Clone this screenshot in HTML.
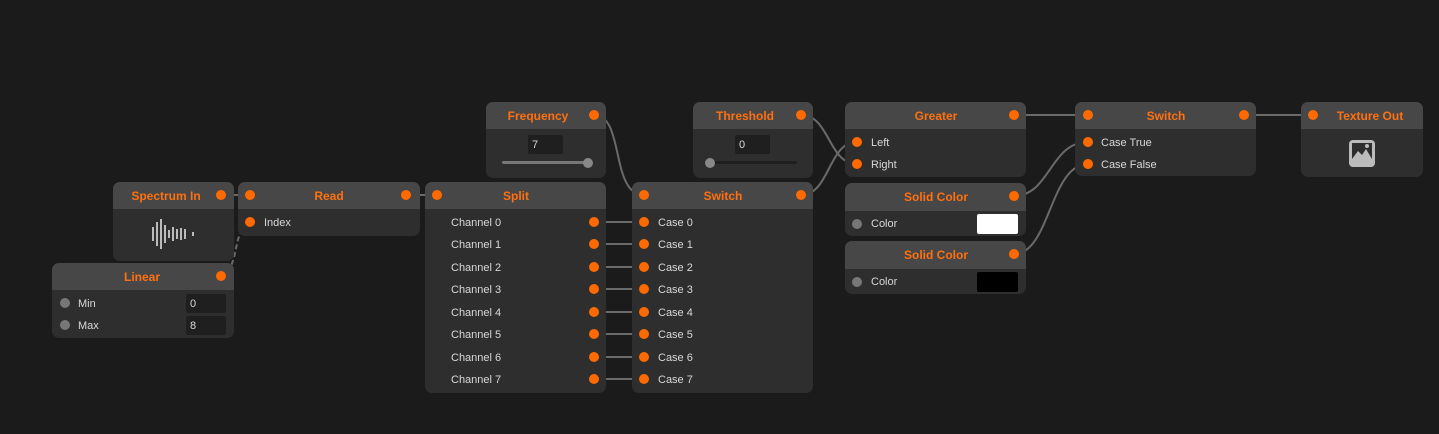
<!DOCTYPE html>
<html><head><meta charset="utf-8"><style>
html,body{margin:0;padding:0;background:#1b1b1b;width:1439px;height:434px;overflow:hidden}
svg{display:block}
.h{font:bold 12px "Liberation Sans",sans-serif;fill:#ff7010;text-anchor:middle}
.t{font:11px "Liberation Sans",sans-serif;fill:#d8d8d8}
.w{stroke:#6a6a6a;stroke-width:2;fill:none}
</style></head><body>
<svg width="1439" height="434" xmlns="http://www.w3.org/2000/svg">
<!-- wires -->
<path class="w" d="M221,195 L250,195"/>
<path class="w" d="M406,195 L437,195"/>
<path class="w" d="M221,276 C240,270 232,228 250,222" stroke-dasharray="5,3"/>
<path class="w" d="M594,115 C625,115 610,195 644,195"/>
<g class="w"><path d="M594,222H644M594,244H644M594,267H644M594,289H644M594,312H644M594,334H644M594,357H644M594,379H644"/></g>
<path class="w" d="M801,115 C830,115 828,164 857,164"/>
<path class="w" d="M801,195 C830,195 828,142 857,142"/>
<path class="w" d="M1014,115 L1088,115"/>
<path class="w" d="M1014,196 C1050,196 1050,142 1088,142"/>
<path class="w" d="M1014,254 C1050,254 1050,164 1088,164"/>
<path class="w" d="M1244,115 L1313,115"/>

<!-- Spectrum In -->
<rect x="113" y="182" width="121" height="79" rx="7" fill="#2e2e2e"/>
<path d="M113,209 V189 a7,7 0 0 1 7,-7 H227 a7,7 0 0 1 7,7 V209 Z" fill="#474747"/>
<text class="h" x="166" y="200">Spectrum In</text>
<circle cx="221" cy="195" r="5" fill="#ff6a00"/>
<g stroke="#bbb" stroke-width="2"><path d="M153,227v14M157,222v24M161,219v30M165,225v18M169,230v8M173,227v14M177,229v10M181,228v12M185,229v10M193,232v4"/></g>
<!-- Read -->
<rect x="238" y="182" width="182" height="54" rx="7" fill="#2e2e2e"/>
<path d="M238,209 V189 a7,7 0 0 1 7,-7 H413 a7,7 0 0 1 7,7 V209 Z" fill="#474747"/>
<text class="h" x="329" y="200">Read</text>
<circle cx="250" cy="195" r="5" fill="#ff6a00"/><circle cx="406" cy="195" r="5" fill="#ff6a00"/>
<circle cx="250" cy="222" r="5" fill="#ff6a00"/><text class="t" x="264" y="226">Index</text>
<!-- Linear -->
<rect x="52" y="263" width="182" height="75" rx="7" fill="#2e2e2e"/>
<path d="M52,290 V270 a7,7 0 0 1 7,-7 H227 a7,7 0 0 1 7,7 V290 Z" fill="#474747"/>
<text class="h" x="142" y="281">Linear</text>
<circle cx="221" cy="276" r="5" fill="#ff6a00"/>
<circle cx="65" cy="303" r="5" fill="#777"/><text class="t" x="78" y="307">Min</text>
<rect x="186" y="294" width="40" height="19" rx="2" fill="#1f1f1f"/><text class="t" x="190" y="307">0</text>
<circle cx="65" cy="325" r="5" fill="#777"/><text class="t" x="78" y="329">Max</text>
<rect x="186" y="316" width="40" height="19" rx="2" fill="#1f1f1f"/><text class="t" x="190" y="329">8</text>
<!-- Frequency -->
<rect x="486" y="102" width="120" height="76" rx="7" fill="#2e2e2e"/>
<path d="M486,129 V109 a7,7 0 0 1 7,-7 H599 a7,7 0 0 1 7,7 V129 Z" fill="#474747"/>
<text class="h" x="538" y="120">Frequency</text>
<circle cx="594" cy="115" r="5" fill="#ff6a00"/>
<rect x="528" y="135" width="35" height="19" rx="2" fill="#1f1f1f"/><text class="t" x="532" y="148">7</text>
<rect x="502" y="161" width="88" height="3" rx="1.5" fill="#777"/><circle cx="588" cy="163" r="5" fill="#888"/>
<!-- Split -->
<rect x="425" y="182" width="181" height="211" rx="7" fill="#2e2e2e"/>
<path d="M425,209 V189 a7,7 0 0 1 7,-7 H599 a7,7 0 0 1 7,7 V209 Z" fill="#474747"/>
<text class="h" x="516" y="200">Split</text>
<circle cx="437" cy="195" r="5" fill="#ff6a00"/>
<g class="t"><text x="451" y="226">Channel 0</text><text x="451" y="248">Channel 1</text><text x="451" y="271">Channel 2</text><text x="451" y="293">Channel 3</text><text x="451" y="316">Channel 4</text><text x="451" y="338">Channel 5</text><text x="451" y="361">Channel 6</text><text x="451" y="383">Channel 7</text></g>
<g fill="#ff6a00"><circle cx="594" cy="222" r="5"/><circle cx="594" cy="244" r="5"/><circle cx="594" cy="267" r="5"/><circle cx="594" cy="289" r="5"/><circle cx="594" cy="312" r="5"/><circle cx="594" cy="334" r="5"/><circle cx="594" cy="357" r="5"/><circle cx="594" cy="379" r="5"/></g>
<!-- Switch -->
<rect x="632" y="182" width="181" height="211" rx="7" fill="#2e2e2e"/>
<path d="M632,209 V189 a7,7 0 0 1 7,-7 H806 a7,7 0 0 1 7,7 V209 Z" fill="#474747"/>
<text class="h" x="723" y="200">Switch</text>
<circle cx="644" cy="195" r="5" fill="#ff6a00"/><circle cx="801" cy="195" r="5" fill="#ff6a00"/>
<g class="t"><text x="658" y="226">Case 0</text><text x="658" y="248">Case 1</text><text x="658" y="271">Case 2</text><text x="658" y="293">Case 3</text><text x="658" y="316">Case 4</text><text x="658" y="338">Case 5</text><text x="658" y="361">Case 6</text><text x="658" y="383">Case 7</text></g>
<g fill="#ff6a00"><circle cx="644" cy="222" r="5"/><circle cx="644" cy="244" r="5"/><circle cx="644" cy="267" r="5"/><circle cx="644" cy="289" r="5"/><circle cx="644" cy="312" r="5"/><circle cx="644" cy="334" r="5"/><circle cx="644" cy="357" r="5"/><circle cx="644" cy="379" r="5"/></g>
<!-- Threshold -->
<rect x="693" y="102" width="120" height="76" rx="7" fill="#2e2e2e"/>
<path d="M693,129 V109 a7,7 0 0 1 7,-7 H806 a7,7 0 0 1 7,7 V129 Z" fill="#474747"/>
<text class="h" x="745" y="120">Threshold</text>
<circle cx="801" cy="115" r="5" fill="#ff6a00"/>
<rect x="735" y="135" width="35" height="19" rx="2" fill="#1f1f1f"/><text class="t" x="739" y="148">0</text>
<rect x="708" y="161" width="89" height="3" rx="1.5" fill="#1f1f1f"/><circle cx="710" cy="163" r="5" fill="#888"/>
<!-- Greater -->
<rect x="845" y="102" width="181" height="75" rx="7" fill="#2e2e2e"/>
<path d="M845,129 V109 a7,7 0 0 1 7,-7 H1019 a7,7 0 0 1 7,7 V129 Z" fill="#474747"/>
<text class="h" x="936" y="120">Greater</text>
<circle cx="1014" cy="115" r="5" fill="#ff6a00"/>
<circle cx="857" cy="142" r="5" fill="#ff6a00"/><text class="t" x="871" y="146">Left</text>
<circle cx="857" cy="164" r="5" fill="#ff6a00"/><text class="t" x="871" y="168">Right</text>
<!-- Solid Color 1 -->
<rect x="845" y="183" width="181" height="53" rx="7" fill="#2e2e2e"/>
<path d="M845,211 V190 a7,7 0 0 1 7,-7 H1019 a7,7 0 0 1 7,7 V211 Z" fill="#474747"/>
<text class="h" x="936" y="201">Solid Color</text>
<circle cx="1014" cy="196" r="5" fill="#ff6a00"/>
<circle cx="857" cy="224" r="5" fill="#777"/><text class="t" x="871" y="227">Color</text>
<rect x="977" y="214" width="41" height="20" rx="2" fill="#fff"/>
<!-- Solid Color 2 -->
<rect x="845" y="241" width="181" height="53" rx="7" fill="#2e2e2e"/>
<path d="M845,269 V248 a7,7 0 0 1 7,-7 H1019 a7,7 0 0 1 7,7 V269 Z" fill="#474747"/>
<text class="h" x="936" y="259">Solid Color</text>
<circle cx="1014" cy="254" r="5" fill="#ff6a00"/>
<circle cx="857" cy="282" r="5" fill="#777"/><text class="t" x="871" y="285">Color</text>
<rect x="977" y="272" width="41" height="20" rx="2" fill="#000"/>
<!-- Switch 2 -->
<rect x="1075" y="102" width="181" height="74" rx="7" fill="#2e2e2e"/>
<path d="M1075,129 V109 a7,7 0 0 1 7,-7 H1249 a7,7 0 0 1 7,7 V129 Z" fill="#474747"/>
<text class="h" x="1166" y="120">Switch</text>
<circle cx="1088" cy="115" r="5" fill="#ff6a00"/><circle cx="1244" cy="115" r="5" fill="#ff6a00"/>
<circle cx="1088" cy="142" r="5" fill="#ff6a00"/><text class="t" x="1101" y="146">Case True</text>
<circle cx="1088" cy="164" r="5" fill="#ff6a00"/><text class="t" x="1101" y="168">Case False</text>
<!-- Texture Out -->
<rect x="1301" y="102" width="122" height="75" rx="7" fill="#2e2e2e"/>
<path d="M1301,129 V109 a7,7 0 0 1 7,-7 H1416 a7,7 0 0 1 7,7 V129 Z" fill="#474747"/>
<text class="h" x="1370" y="120">Texture Out</text>
<circle cx="1313" cy="115" r="5" fill="#ff6a00"/>
<rect x="1349" y="140" width="26" height="27" rx="4" fill="#bbb"/>
<rect x="1352" y="143" width="20" height="16" fill="#2e2e2e"/>
<path d="M1352,159 L1358,151 L1362,155 L1366,149 L1372,159 Z" fill="#bbb"/>
<circle cx="1367" cy="146" r="2" fill="#bbb"/>
</svg>
</body></html>
